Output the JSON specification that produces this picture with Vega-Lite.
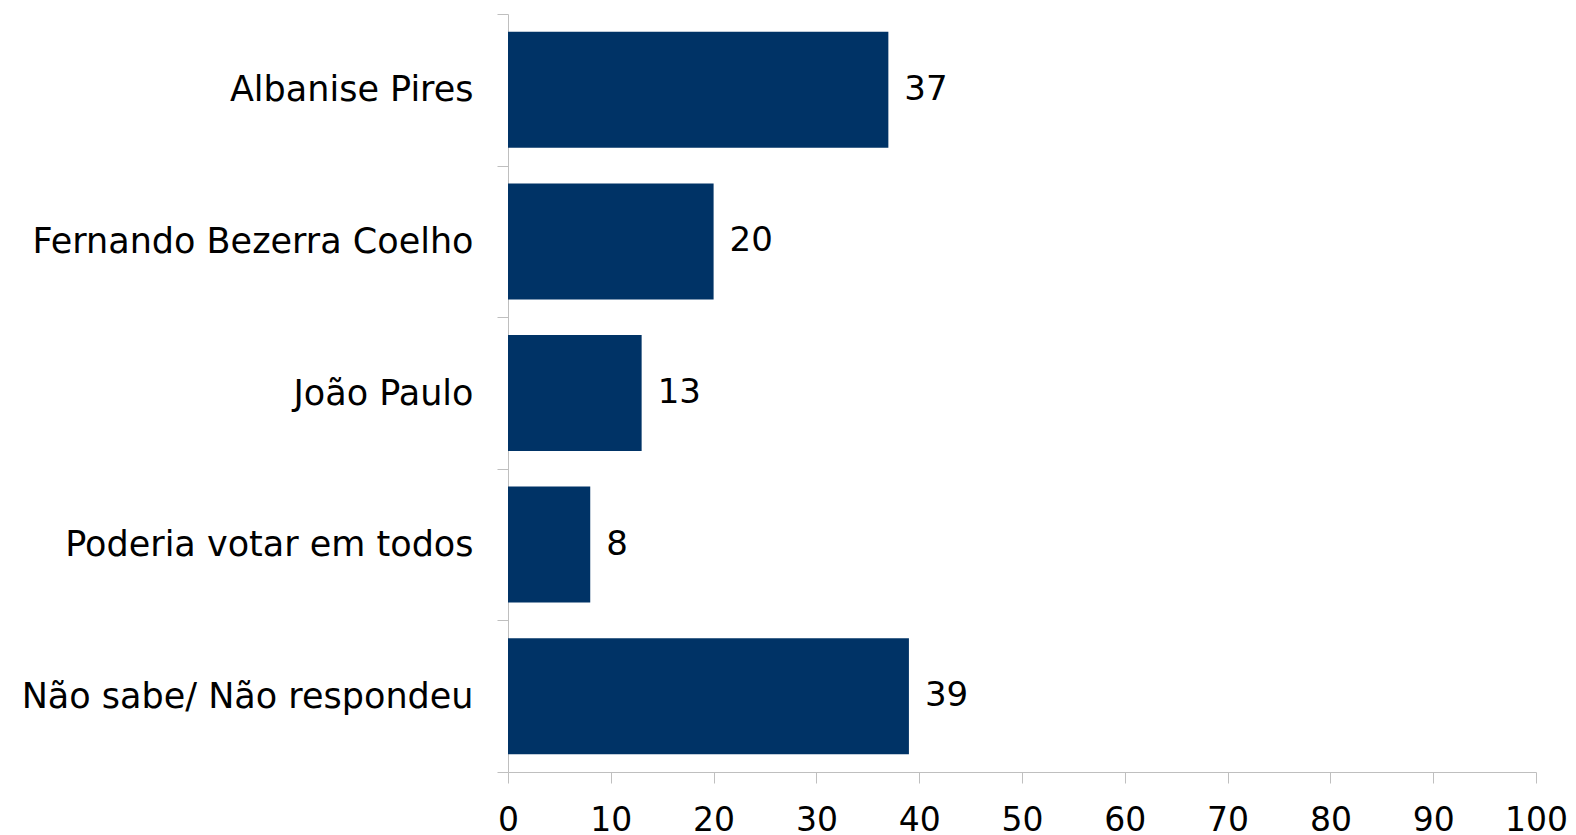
{
  "$schema": "https://vega.github.io/schema/vega-lite/v6.json",
  "width": 1028,
  "height": 758,
  "autosize": {"type": "none"},
  "padding": {"left": 508, "top": 14, "right": 40, "bottom": 63},
  "background": "white",
  "config": {"view": {"stroke": null}, "font": "DejaVu Sans"},
  "data": {
    "values": [
      {"categoria": "Albanise Pires", "valor": 37},
      {"categoria": "Fernando Bezerra Coelho", "valor": 20},
      {"categoria": "João Paulo", "valor": 13},
      {"categoria": "Poderia votar em todos", "valor": 8},
      {"categoria": "Não sabe/ Não respondeu", "valor": 39}
    ]
  },
  "encoding": {
    "y": {
      "field": "categoria",
      "type": "nominal",
      "sort": null,
      "scale": {"paddingInner": 0.235, "paddingOuter": 0.1175},
      "axis": {
        "title": null,
        "domainColor": "#bfbfbf",
        "tickColor": "#bfbfbf",
        "tickSize": 11,
        "labelFontSize": 35,
        "labelFont": "DejaVu Sans",
        "labelColor": "black",
        "labelPadding": 24,
        "bandPosition": 1.307,
        "tickOffset": -17.8,
        "labelOffset": 17.8,
        "tickExtra": true,
        "labelLimit": 600
      }
    },
    "x": {
      "field": "valor",
      "type": "quantitative",
      "scale": {"domain": [0, 100], "nice": false},
      "axis": {
        "title": null,
        "values": [0, 10, 20, 30, 40, 50, 60, 70, 80, 90, 100],
        "grid": false,
        "domainColor": "#bfbfbf",
        "tickColor": "#bfbfbf",
        "tickSize": 11,
        "labelFontSize": 33,
        "labelFont": "DejaVu Sans",
        "labelColor": "black",
        "labelPadding": 21,
        "labelOverlap": false,
        "labelFlush": false
      }
    }
  },
  "layer": [
    {"mark": {"type": "bar", "color": "#003366"}},
    {
      "mark": {"type": "text", "align": "left", "baseline": "middle", "dx": 16, "fontSize": 34, "font": "DejaVu Sans", "color": "black"},
      "encoding": {"text": {"field": "valor", "type": "quantitative"}}
    }
  ]
}
